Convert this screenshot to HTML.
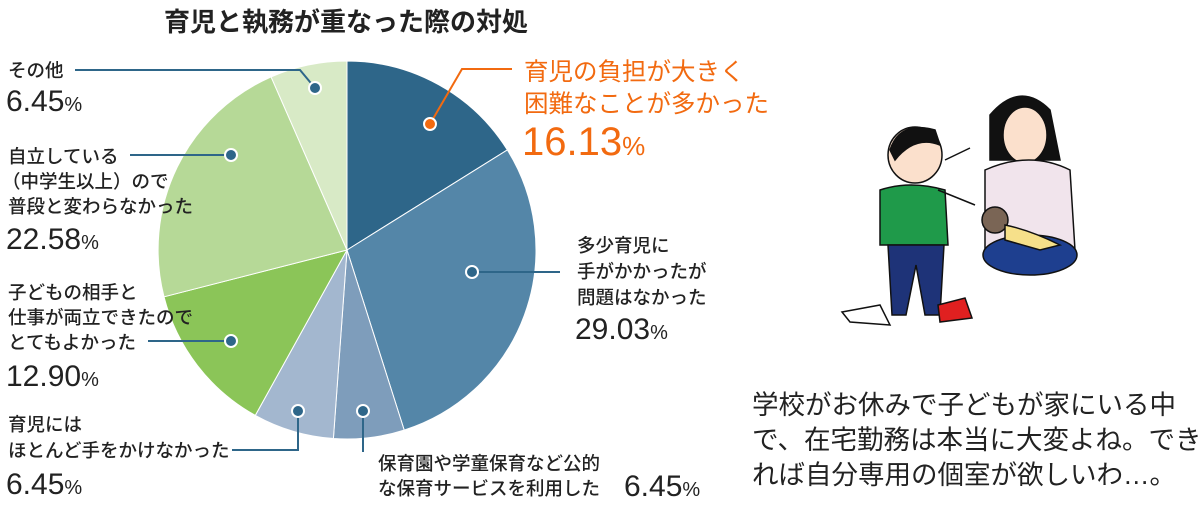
<!DOCTYPE html>
<html><head><meta charset="utf-8"><style>
body{margin:0;background:#fff;width:1198px;height:510px;overflow:hidden}
text{font-family:"Liberation Sans","Noto Sans CJK JP",sans-serif;fill:#222}
.l{font-size:18.5px;font-weight:500}
.p{font-size:30px}
.ps{font-size:20px}
</style></head><body>
<svg width="1198" height="510" viewBox="0 0 1198 510">
<text x="346" y="31" text-anchor="middle" style="font-size:26px;font-weight:bold">育児と執務が重なった際の対処</text>
<g stroke="#fff" stroke-width="1">
<path d="M347,250 L347,61 A189,189 0 0 1 507.3,149.9 Z" fill="#2e6689"/>
<path d="M347,250 L507.3,149.9 A189,189 0 0 1 404.2,430.1 Z" fill="#5486a8"/>
<path d="M347,250 L404.2,430.1 A189,189 0 0 1 333.4,438.5 Z" fill="#7e9dbb"/>
<path d="M347,250 L333.4,438.5 A189,189 0 0 1 255.3,415.4 Z" fill="#a3b7cf"/>
<path d="M347,250 L255.3,415.4 A189,189 0 0 1 164,296.8 Z" fill="#8bc558"/>
<path d="M347,250 L164,296.8 A189,189 0 0 1 271.1,76.9 Z" fill="#b6d997"/>
<path d="M347,250 L271.1,76.9 A189,189 0 0 1 347,61 Z" fill="#d8eac6"/>
</g>
<g stroke="#2e6689" stroke-width="2" fill="none">
<polyline points="75,70 300,70 315,88"/>
<line x1="130" y1="155" x2="231" y2="155"/>
<line x1="148" y1="341" x2="231" y2="341"/>
<polyline points="298,411 298,450 232,450"/>
<polyline points="363,411 363,452"/>
<line x1="472" y1="272" x2="560" y2="272"/>
</g>
<polyline points="430,124 462,69 512,69" stroke="#f26a10" stroke-width="2" fill="none"/>
<g stroke="#fff" stroke-width="2">
<circle cx="315" cy="88" r="6" fill="#2e6689"/>
<circle cx="231" cy="155" r="6" fill="#2e6689"/>
<circle cx="231" cy="341" r="6" fill="#2e6689"/>
<circle cx="298" cy="411" r="6" fill="#2e6689"/>
<circle cx="363" cy="411" r="6" fill="#2e6689"/>
<circle cx="472" cy="272" r="6" fill="#2e6689"/>
<circle cx="430" cy="124" r="6" fill="#f26a10"/>
</g>
<text class="l" x="8" y="77">その他</text>
<text class="p" x="6" y="111">6.45<tspan class="ps">%</tspan></text>
<text class="l" x="8" y="163">自立している</text>
<text class="l" x="2" y="188">（中学生以上）ので</text>
<text class="l" x="8" y="213">普段と変わらなかった</text>
<text class="p" x="6" y="249">22.58<tspan class="ps">%</tspan></text>
<text class="l" x="8" y="299">子どもの相手と</text>
<text class="l" x="8" y="324">仕事が両立できたので</text>
<text class="l" x="8" y="349">とてもよかった</text>
<text class="p" x="6" y="386">12.90<tspan class="ps">%</tspan></text>
<text class="l" x="8" y="431">育児には</text>
<text class="l" x="8" y="457">ほとんど手をかけなかった</text>
<text class="p" x="6" y="494">6.45<tspan class="ps">%</tspan></text>
<text class="l" x="577" y="252">多少育児に</text>
<text class="l" x="577" y="278">手がかかったが</text>
<text class="l" x="577" y="304">問題はなかった</text>
<text class="p" x="575" y="339">29.03<tspan class="ps">%</tspan></text>
<text class="l" x="378" y="470">保育園や学童保育など公的</text>
<text class="l" x="378" y="495">な保育サービスを利用した</text>
<text class="p" x="624" y="496">6.45<tspan class="ps">%</tspan></text>
<text x="524" y="80" style="font-size:24.5px;fill:#f26a10">育児の負担が大きく</text>
<text x="524" y="112" style="font-size:24.5px;fill:#f26a10">困難なことが多かった</text>
<text x="522" y="155" style="font-size:40px;fill:#f26a10">16.13<tspan style="font-size:26px">%</tspan></text>
<text x="752" y="414" style="font-size:26.5px">学校がお休みで子どもが家にいる中</text>
<text x="752" y="449" style="font-size:26.5px">で、在宅勤務は本当に大変よね。でき</text>
<text x="752" y="484" style="font-size:26.5px">れば自分専用の個室が欲しいわ…。</text>
<g stroke="#111" stroke-width="1.5">
<path d="M990,115 Q1020,80 1050,110 L1060,160 L990,160 Z" fill="#111"/>
<ellipse cx="1025" cy="135" rx="22" ry="28" fill="#fbe0cc"/>
<path d="M985,170 Q1030,150 1070,170 L1075,250 L985,250 Z" fill="#f1e4ec"/>
<ellipse cx="1030" cy="255" rx="47" ry="20" fill="#1e3f8f"/>
<ellipse cx="995" cy="220" rx="13" ry="13" fill="#7a6555"/>
<path d="M1005,225 Q1030,230 1060,245 L1040,250 L1005,240 Z" fill="#f6e08a"/>
<ellipse cx="915" cy="155" rx="27" ry="28" fill="#fbe0cc"/>
<path d="M890,150 Q900,120 935,130 L940,145 Q915,135 895,160 Z" fill="#111"/>
<path d="M880,190 Q910,180 945,190 L948,245 L880,245 Z" fill="#1f9a4a"/>
<path d="M888,245 L944,245 L940,315 L925,315 L916,265 L906,315 L892,315 Z" fill="#1e3378"/>
<path d="M938,305 L965,298 L972,318 L940,322 Z" fill="#e02020"/>
<path d="M842,312 L880,305 L890,325 L850,322 Z" fill="#fff"/>
</g>
<line x1="945" y1="160" x2="970" y2="148" stroke="#111" stroke-width="1.5"/>
<line x1="938" y1="190" x2="975" y2="205" stroke="#111" stroke-width="1.5"/>
</svg>
</body></html>
